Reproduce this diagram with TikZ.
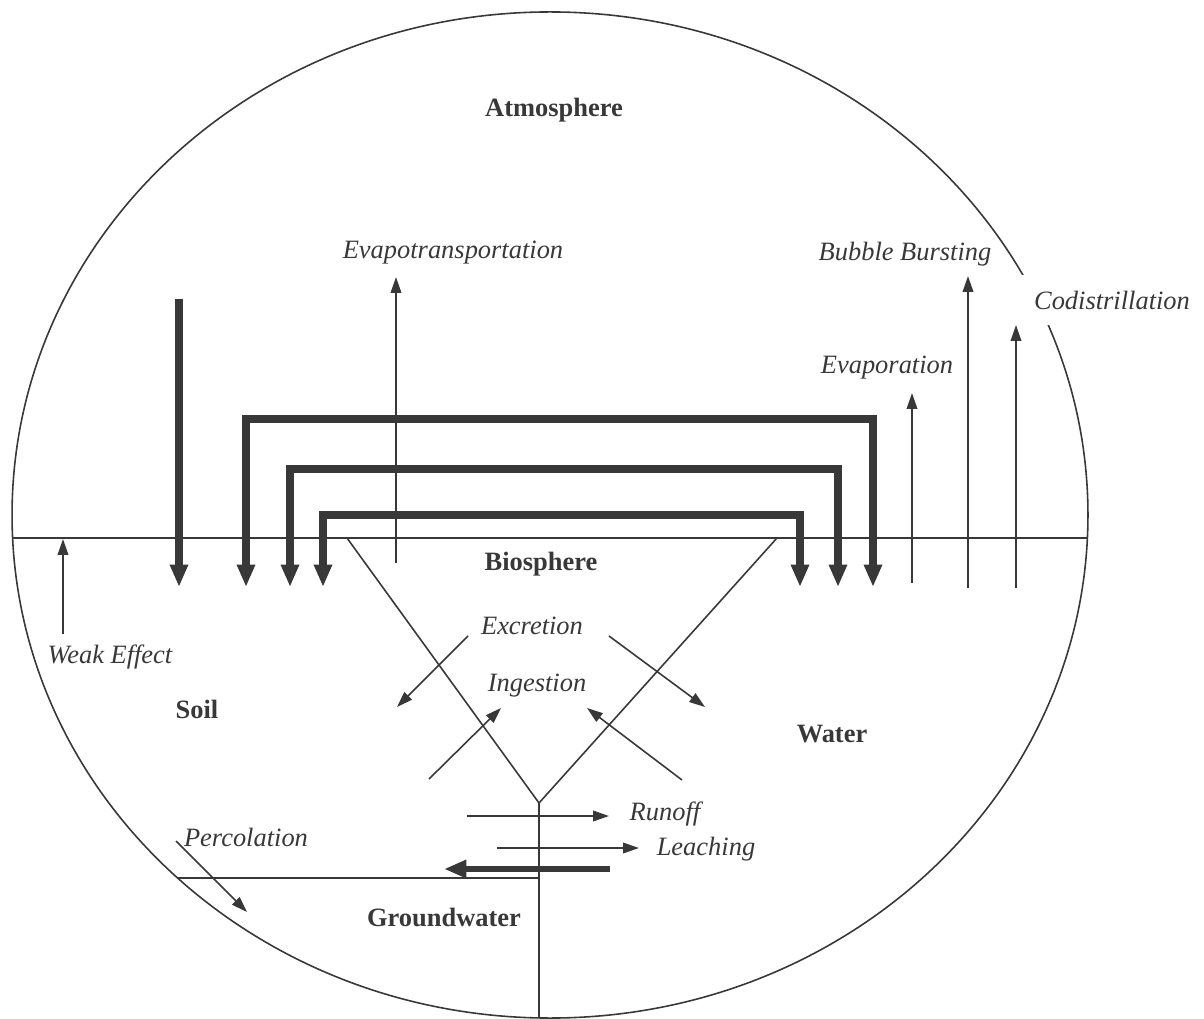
\documentclass[tikz,border=0pt]{standalone}
\usepackage{fontspec}
\setmainfont{Liberation Serif}
\usetikzlibrary{arrows.meta}
\definecolor{ink}{gray}{0.22}
\tikzset{
 flow/.style={draw=ink, line width=0.6pt, -{Triangle[length=6pt,width=4pt]}},
 bigflow/.style={draw=ink, line width=2.8pt, -{Triangle[length=8.5pt,width=6.5pt]}},
 loopflow/.style={draw=ink, line width=2.8pt, {Triangle[length=8.5pt,width=6.5pt]}-{Triangle[length=8.5pt,width=6.5pt]}},
 medium/.style={font=\bfseries, text=ink},
 process/.style={font=\itshape, text=ink, inner sep=1pt},
}
\begin{document}
\begin{tikzpicture}[x=0.3781pt, y=-0.3781pt]
 \useasboundingbox (0,0) rectangle (1204,1019);

 \draw[ink, line width=0.6pt] (550,515) ellipse [x radius=203.4pt, y radius=190.2pt];
 \draw[ink, line width=0.6pt] (12.6,538) -- (1087.4,538);

 \coordinate (bl) at (347,538);
 \coordinate (br) at (777,538);
 \coordinate (apex) at (539,803);
 \coordinate (bottom) at (539,1018);
 \coordinate (gwl) at (177.6,878);
 \coordinate (gwr) at (539,878);
 \draw[ink, line width=0.6pt] (bl) -- (apex) -- (br);
 \draw[ink, line width=0.6pt] (apex) -- (bottom);
 \draw[ink, line width=0.6pt] (gwl) -- (gwr);

 \node[medium] (atm) at (554,110) {Atmosphere};
 \node[medium] (bio) at (541,564) {Biosphere};
 \node[medium] (soil) at (197,709) {Soil};
 \node[medium] (water) at (832,734) {Water};
 \node[medium] (gw) at (444,917) {Groundwater};

 \node[process] (evt) at (453,253) {Evapotransportation};
 \node[process] (bub) at (905,254) {Bubble Bursting};
 \node[process] (evp) at (887,368) {Evaporation};
 \node[process, fill=white, inner xsep=5pt, minimum height=19pt] (codi) at (1112,300) {Codistrillation};
 \node[process] (weak) at (110,657) {Weak Effect};
 \node[process] (exc) at (532,626) {Excretion};
 \node[process] (ing) at (537,686) {Ingestion};
 \node[process] (run) at (665,814) {Runoff};
 \node[process] (lea) at (706,849) {Leaching};
 \node[process] (perc) at (246,837) {Percolation};

 \draw[bigflow] (179,299) -- (179,587);
 \draw[loopflow] (246,587) -- (246,419) -- (873,419) -- (873,587);
 \draw[loopflow] (290,587) -- (290,469) -- (838,469) -- (838,587);
 \draw[loopflow] (323,587) -- (323,515) -- (800,515) -- (800,587);

 \draw[flow] (396,563) -- (396,277);
 \draw[flow] (912,583) -- (912,393);
 \draw[flow] (968,588) -- (968,276);
 \draw[flow] (1016,588) -- (1016,325);
 \draw[flow] (63,634) -- (63,539);

 \draw[flow] (468,636) -- (397,707);
 \draw[flow] (609,636) -- (705,707);
 \draw[flow] (429,779) -- (501,708);
 \draw[flow] (682,780) -- (587,708);

 \draw[flow] (467,816) -- (609,816);
 \draw[flow] (497,848) -- (639,848);
 \draw[bigflow, line width=2.6pt] (610,869) -- (444,869);
 \draw[flow] (176,841) -- (247,912);
\end{tikzpicture}
\end{document}
